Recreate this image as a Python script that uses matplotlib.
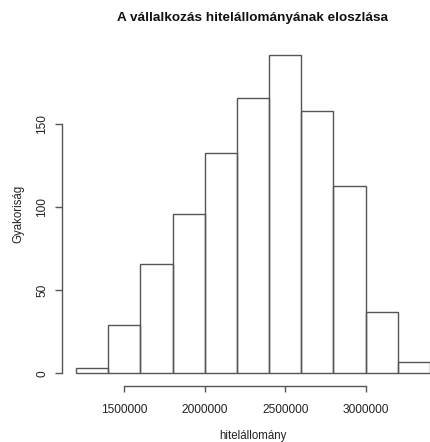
import numpy as np
import matplotlib.pyplot as plt
import matplotlib.transforms as mtrans

# histogram of the loan stock, bins of 200000
BIN_LEFT = [1200000, 1400000, 1600000, 1800000, 2000000, 2200000,
            2400000, 2600000, 2800000, 3000000, 3200000]
COUNTS = [3, 29, 66, 96, 133, 166, 192, 158, 113, 37, 7]
BIN_WIDTH = 200000
X_TICKS = [1500000, 2000000, 2500000, 3000000]
Y_TICKS = [0, 50, 100, 150]

plt.rcParams['font.family'] = ['Liberation Sans', 'DejaVu Sans']

W, H = 430, 442
fig = plt.figure(figsize=(W / 100, H / 100), dpi=100)
# R's plot region, the picture is cropped on the right
ax = fig.add_axes([62 / W, (H - 386) / H, (444 - 62) / W, (386 - 42) / H])

ax.bar(BIN_LEFT, COUNTS, width=BIN_WIDTH, align='edge', fill=False,
       edgecolor='#555555', linewidth=1.0)

span = BIN_LEFT[-1] + BIN_WIDTH - BIN_LEFT[0]
ax.set_xlim(BIN_LEFT[0] - 0.04 * span, BIN_LEFT[-1] + BIN_WIDTH + 0.04 * span)
ax.set_ylim(-0.04 * max(COUNTS), 1.04 * max(COUNTS))

for s in ['top', 'right']:
  ax.spines[s].set_visible(False)
ax.spines['left'].set_bounds(Y_TICKS[0], Y_TICKS[-1])
ax.spines['bottom'].set_bounds(X_TICKS[0], X_TICKS[-1])
for s in ['left', 'bottom']:
  ax.spines[s].set_color('#555555')
  ax.spines[s].set_linewidth(1.0)

ax.set_xticks(X_TICKS)
ax.set_xticklabels([str(v) for v in X_TICKS])
ax.set_yticks(Y_TICKS)
ax.set_yticklabels([])
ax.tick_params(axis='x', length=4.3, width=1.0, color='#555555', pad=9,
               labelsize=8.6, labelcolor='#222222')
ax.tick_params(axis='y', length=5, width=1.0, color='#555555')

# R style: y labels parallel to the axis, drawn by hand
trans = mtrans.blended_transform_factory(fig.transFigure, ax.transData)
for v in Y_TICKS:
  ax.text(48 / W, v, str(v), transform=trans, rotation=90, ha='right',
          va='center', fontsize=8.6, color='#222222')

fig.text(253 / W, 1 - 18 / H, 'A vállalkozás hitelállományának eloszlása',
         ha='center', va='center', fontsize=9.7, fontweight='bold', color='#111111')
fig.text(253 / W, 1 - 436 / H, 'hitelállomány', ha='center', va='center',
         fontsize=8.3, color='#222222')
fig.text(18 / W, 1 - 214 / H, 'Gyakoriság', ha='center', va='center',
         rotation=90, fontsize=8.3, color='#222222')

fig.savefig('out.png', dpi=100)
